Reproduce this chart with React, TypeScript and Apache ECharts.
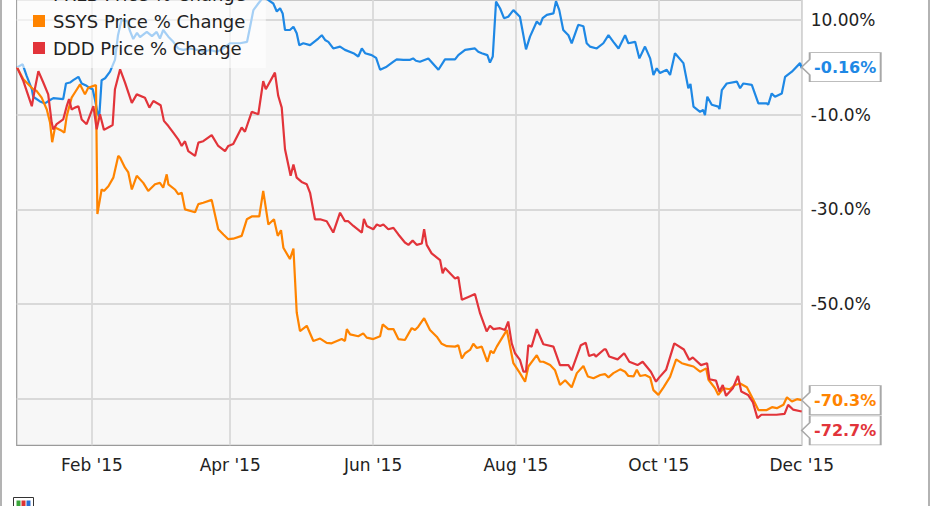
import React, { useEffect, useRef } from 'react';
import * as echarts from 'echarts';

// x values are days counted from 1 Jan 2015 (day 0)
const xTickDays = [31, 90, 151, 212, 273, 334];
const xTickLabels = ["Feb '15", "Apr '15", "Jun '15", "Aug '15", "Oct '15", "Dec '15"];
const yGridValues = [-70, -50, -30, -10, 10];
const yLabelValues = [-50, -30, -10, 10];

const seriesNames = ['PRLB Price % Change', 'SSYS Price % Change', 'DDD Price % Change'];
const seriesColors = ['#1e88e5', '#ff8400', '#e2343a'];

const blueDays = [-1, 1.4, 3.1, 5.3, 5.9, 8.8, 10.9, 13.1, 14.5, 18.7,
  19.9, 21.6, 23.0, 25.2, 26.6, 28.7, 30.1, 31.3, 32.3, 33.4,
  34.1, 35.1, 36.6, 38.7, 40.8, 42.1, 43.6, 46.0, 47.2, 48.6,
  50.2, 51.5, 54.4, 56.6, 58.6, 60.0, 61.4, 63.6, 65.7, 67.8,
  70.0, 72.8, 75.7, 78.5, 81.4, 84.2, 87.1, 89.9, 94.2, 97.2,
  98.5, 99.9, 102.0, 104.9, 106.3, 108.4, 109.9, 111.3, 112.4, 113.4,
  115.5, 117.0, 118.4, 119.5, 121.2, 124.1, 127.6, 129.1, 130.5, 131.9,
  134.0, 136.9, 139.0, 142.6, 144.7, 146.2, 147.6, 150.4, 152.3, 154.0,
  156.8, 159.7, 161.1, 163.9, 166.8, 168.1, 169.3, 171.0, 174.6, 178.9,
  181.7, 186.0, 187.4, 190.3, 194.5, 195.9, 197.4, 199.8, 200.9, 202.1,
  203.5, 205.2, 206.9, 208.7, 210.9, 213.7, 216.3, 218.0, 220.9, 222.3,
  223.4, 225.2, 228.0, 229.1, 230.5, 232.2, 234.4, 235.8, 238.6, 240.8,
  242.2, 243.6, 246.5, 249.3, 251.5, 253.6, 255.8, 258.6, 260.0, 262.9,
  264.7, 267.1, 269.3, 270.7, 272.1, 273.5, 276.4, 277.8, 279.9, 283.5,
  285.6, 286.5, 287.8, 290.6, 291.9, 292.7, 293.7, 295.6, 298.4, 298.9,
  299.9, 302.0, 306.3, 307.7, 309.1, 312.7, 315.5, 319.1, 319.7, 321.2,
  322.6, 325.5, 326.9, 329.8, 333.3, 334];
const blueValues = [0, 0.65, -1.8, -4.6, -6.2, -7.2, -7.6, -6.9, -6.5, -6.7,
  -3.4, -3.2, -2.7, -2.0, -3.4, -3.9, -4.4, -4.6, -6.9, -9.7,
  -10.4, -2.7, -2.3, -0.9, 1.6, 6.8, 10.0, 9.8, 7.7, 6.0,
  7.3, 6.4, 7.5, 6.6, 7.5, 6.1, 7.9, 6.5, 5.4, 4.0,
  3.7, 4.0, 3.7, 3.3, 3.7, 3.3, 4.0, 5.1, 5.1, 5.4,
  8.6, 12.1, 13.5, 15.3, 14.2, 13.5, 11.8, 12.5, 11.4, 7.9,
  7.9, 8.6, 7.2, 4.7, 5.1, 4.7, 6.1, 6.8, 5.8, 5.4,
  4.0, 4.4, 3.7, 3.0, 2.3, 4.0, 3.0, 2.6, 2.0, -0.5,
  0.15, 1.2, 1.7, 1.6, 1.6, 1.9, 1.4, 1.2, 1.9, -0.5,
  1.7, 1.7, 2.6, 3.7, 4.0, 3.3, 3.0, 2.6, 1.0, 2.3,
  13.9, 12.5, 10.4, 10.7, 12.1, 10.7, 3.8, 6.5, 9.7, 9.0,
  10.4, 11.1, 11.4, 14.0, 12.1, 7.9, 6.8, 5.1, 9.0, 8.7,
  5.1, 4.4, 4.0, 5.1, 6.8, 5.4, 4.0, 6.8, 5.1, 5.4,
  1.9, 4.4, 1.9, -1.6, -0.2, -1.2, -0.5, -1.6, 3.0, 0.9,
  -4.4, -3.5, -8.3, -9.4, -9.0, -10.1, -6.2, -7.9, -8.3, -8.8,
  -4.8, -3.4, -3.0, -4.4, -3.4, -3.7, -7.6, -7.6, -7.9, -5.5,
  -6.2, -5.5, -2.0, -0.9, 0.9, -0.16];

const orangeDays = [-1, 1.7, 5.9, 7.4, 9.5, 11.7, 13.1, 14.0, 15.2, 18.1,
  19.2, 20.2, 22.3, 23.7, 25.9, 28.0, 29.4, 32.3, 32.7, 33.3,
  35.1, 36.1, 38.0, 40.1, 42.2, 43.0, 45.1, 46.5, 48.0, 50.1,
  52.9, 55.0, 57.9, 60.0, 61.4, 62.9, 63.6, 66.4, 67.8, 69.3,
  70.7, 75.0, 76.4, 78.5, 82.1, 84.9, 87.1, 89.2, 91.3, 94.9,
  97.1, 99.2, 102.4, 104.1, 106.3, 108.7, 110.3, 111.7, 112.7, 115.5,
  117.0, 118.4, 119.8, 122.7, 125.5, 128.4, 131.2, 133.3, 137.6, 139.0,
  139.8, 141.2, 144.7, 146.8, 148.3, 151.1, 154.0, 155.1, 157.5, 159.7,
  161.8, 164.6, 167.5, 168.9, 170.3, 172.8, 175.3, 178.2, 180.3, 182.5,
  186.0, 187.4, 188.9, 190.3, 192.4, 193.8, 195.3, 197.4, 199.8, 201.2,
  202.4, 203.8, 208.1, 210.9, 213.7, 215.9, 217.3, 220.9, 222.3, 223.7,
  226.6, 228.7, 230.8, 233.0, 235.8, 238.0, 240.8, 242.7, 245.1, 248.0,
  250.0, 251.5, 253.6, 256.5, 258.6, 260.0, 262.2, 263.6, 265.0, 267.2,
  269.3, 270.7, 272.8, 275.0, 277.8, 280.4, 282.8, 285.6, 287.8, 290.6,
  293.2, 294.2, 297.0, 298.4, 300.6, 303.4, 305.6, 307.7, 310.6, 313.4,
  315.5, 319.1, 321.3, 323.4, 326.2, 327.7, 329.8, 332.0, 334];
const orangeValues = [0, -2.5, -4.6, -5.0, -6.4, -8.9, -11.7, -15.8, -12.7, -13.4,
  -13.8, -10.3, -6.4, -5.3, -3.6, -5.7, -4.3, -3.8, -3.8, -31.0,
  -25.8, -26.1, -25.1, -23.3, -18.7, -19.1, -21.2, -22.2, -25.8, -22.9,
  -24.4, -26.1, -24.7, -24.4, -25.4, -22.6, -24.7, -25.8, -26.8, -26.5,
  -30.0, -30.6, -28.9, -28.6, -28.0, -34.2, -35.3, -36.3, -36.2, -35.6,
  -32.1, -31.5, -31.5, -26.1, -33.2, -32.1, -35.6, -34.4, -38.1, -40.5,
  -38.3, -51.8, -55.7, -54.6, -57.8, -57.3, -58.2, -58.3, -57.4, -57.8,
  -55.3, -56.4, -56.8, -56.2, -57.1, -57.4, -56.8, -54.3, -55.3, -55.3,
  -57.4, -57.6, -55.1, -55.5, -54.8, -53.0, -55.5, -56.9, -58.4, -58.9,
  -59.0, -58.7, -61.5, -60.4, -59.7, -58.4, -59.3, -59.0, -62.2, -59.9,
  -60.4, -59.0, -55.5, -62.5, -64.6, -66.4, -63.2, -60.8, -62.2, -62.2,
  -62.9, -64.0, -67.1, -66.1, -67.6, -64.6, -63.1, -65.3, -65.7, -65.0,
  -64.8, -65.5, -64.6, -63.8, -64.3, -65.2, -65.3, -63.9, -65.2, -65.0,
  -65.5, -68.2, -69.2, -67.6, -65.4, -61.7, -62.5, -62.9, -63.2, -64.3,
  -63.6, -66.0, -67.8, -69.2, -67.8, -68.0, -67.1, -66.8, -67.6, -70.3,
  -72.4, -72.4, -71.8, -72.0, -71.3, -69.7, -70.6, -70.1, -70.3];

const redDays = [-1, 1.7, 5.3, 6.7, 8.1, 10.2, 12.3, 13.8, 14.5, 15.9,
  18.7, 20.2, 21.2, 22.3, 23.7, 25.2, 26.6, 28.7, 31.6, 33.0,
  34.4, 36.1, 38.7, 39.8, 40.8, 43.0, 45.1, 48.0, 50.1, 53.6,
  55.5, 57.2, 60.3, 61.7, 63.6, 65.7, 67.8, 69.3, 70.7, 72.1,
  75.0, 76.4, 78.5, 82.1, 84.9, 87.8, 89.2, 91.3, 94.9, 96.3,
  99.2, 102.0, 104.1, 105.2, 109.1, 110.5, 112.0, 113.4, 115.8, 117.0,
  118.4, 120.5, 122.7, 124.1, 126.2, 128.4, 131.2, 134.0, 136.9, 139.0,
  140.4, 142.6, 146.2, 147.1, 148.3, 151.1, 152.6, 154.0, 155.4, 157.5,
  159.7, 161.8, 164.6, 166.1, 167.9, 169.6, 171.8, 172.8, 173.9, 176.0,
  179.6, 180.7, 181.7, 186.0, 187.4, 188.9, 191.7, 194.5, 196.7, 199.5,
  200.9, 202.4, 205.2, 207.3, 208.7, 210.2, 211.6, 213.7, 215.2, 216.3,
  217.3, 218.7, 220.9, 223.7, 228.0, 230.8, 234.4, 235.8, 239.7, 241.8,
  243.2, 245.4, 246.1, 249.6, 250.4, 251.8, 255.4, 258.2, 260.4, 263.9,
  266.1, 269.6, 271.8, 273.2, 276.1, 279.6, 283.7, 286.0, 287.5, 291.0,
  293.6, 294.6, 297.4, 298.9, 300.3, 301.7, 304.6, 306.8, 308.2, 311.1,
  313.2, 315.1, 316.8, 320.3, 323.2, 326.7, 328.2, 330.3, 334];
const redValues = [0, -2.9, -8.2, -4.3, -0.8, -3.2, -5.7, -11.7, -13.1, -12.0,
  -11.0, -8.2, -6.7, -8.9, -8.5, -8.2, -11.0, -12.0, -8.2, -13.1,
  -9.9, -13.2, -12.5, -12.2, -4.6, -0.4, -3.2, -7.5, -5.7, -6.4,
  -8.5, -7.1, -8.0, -11.3, -12.4, -13.8, -15.2, -16.6, -15.6, -17.7,
  -18.7, -15.9, -15.6, -14.3, -16.6, -17.7, -16.6, -16.2, -12.7, -13.6,
  -9.4, -9.9, -2.9, -4.6, -1.1, -6.0, -8.5, -17.3, -22.9, -20.5,
  -23.3, -24.2, -24.7, -26.5, -32.1, -32.1, -32.5, -34.9, -30.7, -32.5,
  -32.5, -33.5, -34.9, -32.0, -33.5, -34.2, -33.2, -33.5, -33.2, -34.2,
  -33.9, -35.3, -37.0, -37.5, -36.6, -37.5, -37.2, -34.2, -37.5, -39.3,
  -40.7, -43.5, -42.4, -44.6, -44.3, -49.1, -48.5, -47.9, -52.0, -55.8,
  -54.6, -55.3, -55.1, -55.5, -53.7, -58.3, -60.4, -61.8, -64.3, -64.3,
  -58.7, -59.0, -55.3, -58.5, -59.0, -62.9, -62.9, -64.0, -58.7, -58.2,
  -61.0, -60.6, -61.1, -59.6, -59.6, -61.1, -61.7, -60.4, -62.2, -62.9,
  -62.2, -64.3, -66.4, -65.5, -63.9, -58.3, -59.6, -61.8, -61.3, -62.9,
  -62.5, -65.9, -66.2, -68.5, -67.1, -69.4, -67.8, -65.2, -68.5, -69.2,
  -70.8, -74.1, -73.4, -73.4, -73.4, -73.2, -71.3, -72.3, -72.7];

const allDays = [blueDays, orangeDays, redDays];
const allValues = [blueValues, orangeValues, redValues];
const calloutShift = [-1, 0, 19];

const FONT = 'DejaVu Sans';
const CALLOUT = 'path://M0,15 L8,7 L8,0 L79,0 L79,30 L8,30 L8,23 Z';

function fmtEnd(v: number): string {
  return (Math.abs(v) < 1 ? v.toFixed(2) : v.toFixed(1)) + '%';
}

export default function App() {
  const ref = useRef<HTMLDivElement>(null);
  useEffect(() => {
    const chart = echarts.init(ref.current!, null, { renderer: 'svg' });
    const series = seriesNames.map((name, i) => {
      const days = allDays[i];
      const vals = allValues[i];
      const lastD = days[days.length - 1];
      const lastV = vals[vals.length - 1];
      return {
        type: 'line',
        name,
        data: days.map((d, k) => [d, vals[k]]),
        showSymbol: false,
        symbol: 'none',
        clip: true,
        lineStyle: { width: 2.2, color: seriesColors[i] },
        itemStyle: { color: seriesColors[i] },
        emphasis: { disabled: true },
        markPoint: {
          silent: true,
          symbol: CALLOUT,
          symbolSize: [79, 29],
          symbolOffset: [39.5, calloutShift[i]],
          itemStyle: { color: '#ffffff', borderColor: '#a8a8a8', borderWidth: 1.2 },
          label: {
            show: true,
            position: 'inside',
            offset: [4, 0],
            color: seriesColors[i],
            fontFamily: FONT,
            fontWeight: 'bold',
            fontSize: 16,
            formatter: () => fmtEnd(lastV),
          },
          data: [{ coord: [lastD, lastV], value: lastV }],
        },
      };
    });

    chart.setOption({
      animation: false,
      backgroundColor: '#ffffff',
      grid: {
        left: 16.7,
        right: 129.3,
        top: 0,
        bottom: 60.7,
        show: true,
        backgroundColor: '#f7f7f7',
        borderColor: '#9a9a9a',
        borderWidth: 1.2,
      },
      legend: {
        orient: 'vertical',
        left: 17,
        top: -25,
        padding: [10, 20, 11, 16],
        itemGap: 9,
        itemWidth: 12,
        itemHeight: 12,
        icon: 'rect',
        backgroundColor: 'rgba(255,255,255,0.6)',
        selectedMode: false,
        textStyle: { fontFamily: FONT, fontSize: 18, color: '#222', padding: [0, 0, 0, 3] },
        data: seriesNames,
      },
      xAxis: {
        type: 'value',
        min: -1.15,
        max: 334,
        axisLine: { show: false },
        axisTick: { show: false, customValues: xTickDays },
        axisLabel: {
          customValues: xTickDays,
          formatter: (v: number) => {
            const k = xTickDays.indexOf(Math.round(v));
            return k >= 0 ? xTickLabels[k] : '';
          },
          color: '#222',
          fontFamily: FONT,
          fontSize: 17,
          margin: 11,
        },
        splitLine: { show: true, lineStyle: { color: '#d9d9d9', width: 1.8 } },
      },
      yAxis: {
        type: 'value',
        position: 'right',
        min: -79.85,
        max: 14.24,
        axisLine: { show: false },
        axisTick: { show: false, customValues: yGridValues },
        axisLabel: {
          customValues: yLabelValues,
          formatter: (v: number) => (v === 10 ? '10.00%' : v.toFixed(1) + '%'),
          color: '#222',
          fontFamily: FONT,
          fontSize: 17,
          margin: 9,
        },
        splitLine: { show: true, lineStyle: { color: '#d9d9d9', width: 1.8 } },
      },
      graphic: [
        {
          type: 'rect',
          silent: true,
          shape: { x: 1, y: -5, width: 928, height: 530 },
          style: { fill: 'none', stroke: '#9a9a9a', lineWidth: 1.5 },
        },
        {
          type: 'group',
          left: 13,
          top: 497,
          silent: true,
          children: [
            { type: 'rect', shape: { x: 0, y: 0, width: 20, height: 12 }, style: { fill: '#ffffff', stroke: '#333', lineWidth: 1 } },
            { type: 'rect', shape: { x: 3, y: 3, width: 4, height: 6 }, style: { fill: '#3aa63a' } },
            { type: 'rect', shape: { x: 8, y: 3, width: 4, height: 6 }, style: { fill: '#d33' } },
            { type: 'rect', shape: { x: 13, y: 3, width: 4, height: 6 }, style: { fill: '#2a6fd6' } },
          ],
        },
      ],
      series,
    });
    return () => chart.dispose();
  }, []);
  return <div ref={ref} style={{ position: 'fixed', left: 0, top: 0, width: 931, height: 506 }} />;
}
